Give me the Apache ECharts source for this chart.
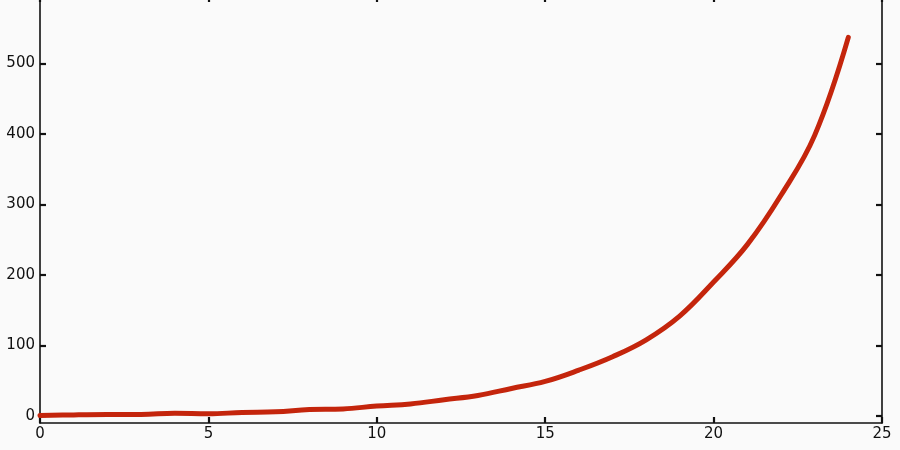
<!DOCTYPE html>
<html>
<head>
<meta charset="utf-8">
<script src="https://cdn.jsdelivr.net/npm/echarts@6/dist/echarts.min.js"></script>
<style>
  html, body { margin: 0; padding: 0; background: #fafafa; }
  #chart { width: 900px; height: 450px; }
</style>
</head>
<body>
<div id="chart"></div>
<script>
'use strict';

// values
const xs = [0, 1, 2, 3, 4, 5, 6, 7, 8, 9, 10, 11, 12, 13, 14, 15, 16, 17, 18, 19, 20, 21, 22, 23, 24];
const ys = [0.5, 1.5, 2, 2, 4, 3, 5, 6, 9, 10, 14, 17, 23, 29, 39, 49, 65, 84, 108, 142, 190, 243, 313, 398, 537];

const xTicks = [0, 5, 10, 15, 20, 25];
const yTicks = [0, 100, 200, 300, 400, 500];

window.addEventListener('load', () => {
    const box = document.getElementById('chart');
    let myChart = echarts.init(box);

    const font = 'DejaVu Sans';
    const axisLine = { show: true, onZero: false, lineStyle: { color: '#111', width: 1.6 } };
    const tick = { show: true, inside: true, length: 6, lineStyle: { color: '#111', width: 2.2 } };

    let points = xs.map((x, i) => [x, ys[i]]);

    let option = {
        backgroundColor: '#fafafa',
        animation: false,
        grid: { left: 40, right: 18, top: 0, bottom: 27 },
        xAxis: [
            {
                type: 'value', min: 0, max: 25, interval: 5, position: 'bottom',
                axisLine: axisLine, axisTick: tick, splitLine: { show: false },
                axisLabel: {
                    color: '#111', fontFamily: font, fontSize: 15, margin: 4,
                    formatter: v => xTicks.includes(v) ? String(v) : ''
                }
            },
            {
                // top frame is cut off in the picture, only tick stubs show
                type: 'value', min: 0, max: 25, interval: 5, position: 'top',
                axisLine: { show: false, onZero: false },
                axisTick: Object.assign({}, tick, { length: 2 }),
                splitLine: { show: false },
                axisLabel: { show: false }
            }
        ],
        yAxis: [
            {
                type: 'value', min: -10, max: 590, position: 'left',
                axisLine: axisLine, splitLine: { show: false },
                axisTick: Object.assign({}, tick, { customValues: yTicks }),
                axisLabel: {
                    color: '#111', fontFamily: font, fontSize: 15, margin: 5,
                    customValues: yTicks
                }
            },
            {
                type: 'value', min: -10, max: 590, position: 'right',
                axisLine: axisLine, splitLine: { show: false },
                axisTick: Object.assign({}, tick, { customValues: yTicks }),
                axisLabel: { show: false }
            }
        ],
        series: [
            {
                type: 'line',
                data: points,
                smooth: 0.4,
                showSymbol: false,
                lineStyle: { color: '#c4250c', width: 5, cap: 'round' }
            }
        ]
    };
    myChart.setOption(option);
});
</script>
</body>
</html>
